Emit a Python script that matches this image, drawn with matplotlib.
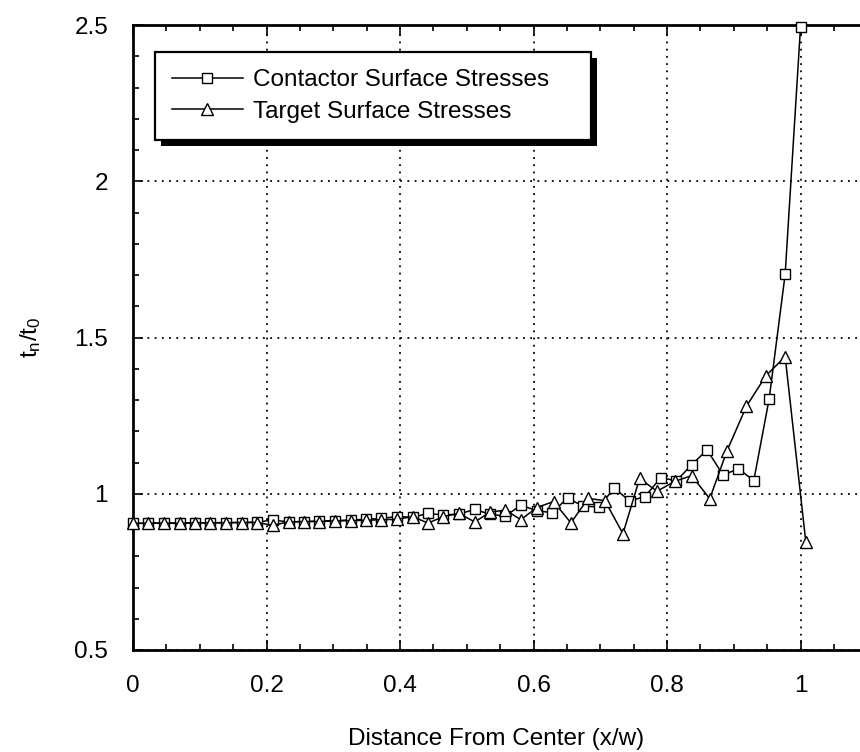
import matplotlib
matplotlib.use("Agg")
import matplotlib.pyplot as plt
import matplotlib.patheffects as pe
from matplotlib.ticker import MultipleLocator, FuncFormatter

plt.rcParams['font.family'] = ['Liberation Sans', 'DejaVu Sans']
plt.rcParams['mathtext.fontset'] = 'custom'
plt.rcParams['mathtext.rm'] = 'Liberation Sans'

# Contactor surface stresses (squares)
contactor_x = [0.000, 0.023, 0.047, 0.070, 0.093, 0.116, 0.140, 0.163, 0.186, 0.209,
               0.233, 0.256, 0.279, 0.302, 0.326, 0.349, 0.372, 0.395, 0.419, 0.442,
               0.465, 0.488, 0.512, 0.535, 0.558, 0.581, 0.605, 0.628, 0.651, 0.674,
               0.698, 0.721, 0.744, 0.767, 0.791, 0.814, 0.837, 0.860, 0.884, 0.907,
               0.930, 0.953, 0.977, 1.000]
contactor_y = [0.905, 0.906, 0.906, 0.907, 0.907, 0.907, 0.908, 0.908, 0.909, 0.916,
               0.910, 0.911, 0.913, 0.914, 0.916, 0.918, 0.921, 0.927, 0.925, 0.937,
               0.932, 0.935, 0.950, 0.934, 0.929, 0.963, 0.946, 0.939, 0.987, 0.960,
               0.958, 1.018, 0.977, 0.991, 1.052, 1.041, 1.093, 1.140, 1.060, 1.080,
               1.042, 1.303, 1.702, 2.493]

# Target surface stresses (triangles)
target_x = [0.000, 0.023, 0.047, 0.070, 0.093, 0.116, 0.140, 0.163, 0.186, 0.209,
            0.233, 0.256, 0.279, 0.302, 0.326, 0.349, 0.372, 0.395, 0.419, 0.442,
            0.465, 0.488, 0.512, 0.535, 0.558, 0.581, 0.605, 0.630, 0.656, 0.682,
            0.707, 0.734, 0.759, 0.785, 0.812, 0.837, 0.864, 0.890, 0.919, 0.948,
            0.977, 1.008]
target_y = [0.905, 0.906, 0.906, 0.905, 0.907, 0.907, 0.907, 0.908, 0.908, 0.899,
            0.910, 0.911, 0.911, 0.913, 0.914, 0.915, 0.917, 0.918, 0.927, 0.906,
            0.927, 0.937, 0.910, 0.941, 0.948, 0.917, 0.956, 0.975, 0.907, 0.985,
            0.978, 0.872, 1.049, 1.008, 1.040, 1.058, 0.984, 1.138, 1.280, 1.377,
            1.439, 0.845]

series_labels = ["Contactor Surface Stresses", "Target Surface Stresses"]
x_ticks = [0, 0.2, 0.4, 0.6, 0.8, 1.0]
y_ticks = [0.5, 1.0, 1.5, 2.0, 2.5]

W, H = 860, 752
fig = plt.figure(figsize=(W / 100, H / 100), dpi=100)
left, right, top, bottom = 133, 860, 25, 650
ax = fig.add_axes([left / W, (H - bottom) / H, (right - left) / W, (bottom - top) / H])

FS = 17.5
ax.plot(contactor_x, contactor_y, color='black', lw=1.1, marker='s', ms=7.5,
        mfc='white', mec='black', mew=1.0, clip_on=False, zorder=3,
        label=series_labels[0])
ax.plot(target_x, target_y, color='black', lw=1.1, marker='^', ms=8,
        mfc='white', mec='black', mew=1.0, clip_on=False, zorder=3,
        label=series_labels[1])

ax.set_xlim(0, (right - left) / 667.5)
ax.set_ylim(0.5, 2.5)
ax.set_xticks(x_ticks)
ax.set_yticks(y_ticks)
ax.xaxis.set_minor_locator(MultipleLocator(0.05))
ax.yaxis.set_minor_locator(MultipleLocator(0.1))
fmt = FuncFormatter(lambda v, p: f"{v:g}")
ax.xaxis.set_major_formatter(fmt)
ax.yaxis.set_major_formatter(fmt)

ax.tick_params(which='both', direction='in', top=True, right=False,
               labelsize=FS, pad=18, width=1.2)
ax.tick_params(which='major', length=7)
ax.tick_params(which='minor', length=4)

ax.grid(True, which='major', color='black', linestyle=(0, (1, 3)), linewidth=1.3)

for s in ['left', 'bottom', 'top']:
    ax.spines[s].set_linewidth(2.0)
ax.spines['right'].set_visible(False)

ax.set_xlabel("Distance From Center (x/w)", fontsize=FS, labelpad=22)
ax.set_ylabel(r"$\mathregular{t_n/t_0}$", fontsize=FS)
ax.yaxis.set_label_coords(-0.124, 0.5)

leg_l, leg_r, leg_t, leg_b = 155, 591, 52, 137
bb = ((leg_l - left) / (right - left), (bottom - leg_b) / (bottom - top),
      (leg_r - leg_l) / (right - left), (leg_b - leg_t) / (bottom - top))
leg = ax.legend(loc='upper left', bbox_to_anchor=bb, mode='expand', borderaxespad=0,
                fontsize=FS, handlelength=2.9, handletextpad=0.45, borderpad=0.7,
                labelspacing=0.4, fancybox=False, framealpha=1, edgecolor='black')
frame = leg.get_frame()
frame.set_linewidth(1.6)
frame.set_path_effects([pe.SimplePatchShadow(offset=(4.5, -4.5), shadow_rgbFace='black', alpha=1.0),
                        pe.Normal()])

fig.savefig("out.png", dpi=100)
